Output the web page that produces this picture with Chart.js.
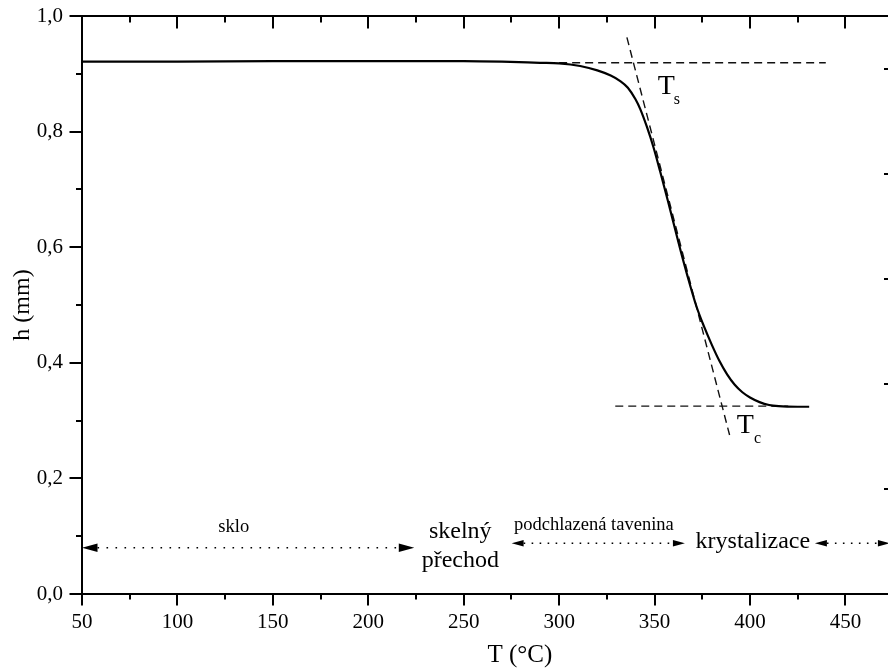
<!DOCTYPE html>
<html><head><meta charset="utf-8">
<script src="https://cdn.jsdelivr.net/npm/chart.js@4/dist/chart.umd.min.js"></script>
<style>html,body{margin:0;padding:0;background:#fff;overflow:hidden}</style>
</head><body>
<canvas id="c" width="888" height="668"></canvas>
<script>
// ---- data ----
const temperatures = [50,100,150,200,250,270,290,300,311,320,327,332,336,340,342.5,346,349.5,353,357,363,367,372,376,380,384,388,392,396,400,405,410,415,425,431];
const heights      = [0.921,0.921,0.922,0.922,0.922,0.921,0.919,0.918,0.9135,0.906,0.897,0.8875,0.876,0.856,0.839,0.808,0.772,0.730,0.680,0.602,0.553,0.497,0.462,0.431,0.403,0.380,0.362,0.349,0.340,0.332,0.327,0.325,0.324,0.324];

const upperTangentT = [300, 439.7];
const upperTangentH = [0.919, 0.919];
const steepTangentT = [335.5, 389.3];
const steepTangentH = [0.963, 0.275];
const lowerTangentT = [329.4, 420];
const lowerTangentH = [0.325, 0.325];

const xTickValues = [50,100,150,200,250,300,350,400,450];
const xTickLabels = ['50','100','150','200','250','300','350','400','450'];
const yTickValues = [0,0.2,0.4,0.6,0.8,1.0];
const yTickLabels = ['0,0','0,2','0,4','0,6','0,8','1,0'];

const xTitle = 'T (°C)';
const yTitle = 'h (mm)';

// region arrows (data units)
const arrowStartT = [50, 275.1, 434.0];
const arrowEndT   = [224.1, 365.9, 473.3];
const arrowH      = [0.0801, 0.0877, 0.0877];

// region labels
const regionLabels = ['sklo', 'skelný', 'přechod', 'podchlazená tavenina', 'krystalizace'];
const regionLabelT = [129.5, 248.2, 248.2, 318.2, 401.5];
const regionLabelH = [0.1067, 0.0969, 0.0472, 0.1107, 0.0791];

// tangent point labels
const pointLabels = ['T', 's', 'T', 'c'];
const pointLabelT = [351.6, 360.1, 393.0, 402.1];
const pointLabelH = [0.865, 0.848, 0.278, 0.2618];

// ---- styles ----
const FONT = '"Liberation Serif", "Times New Roman", serif';
const regionSizes = [18.5, 24, 24, 18.5, 24];
const pointSizes = [28, 16, 28, 16];
const arrowHead = [[15.5, 4.3, 9], [12, 3.2, 8], [12, 3.2, 8]];

const toXY = (xs, ys) => xs.map((v, i) => ({x: v, y: ys[i]}));

const decor = {
  id: 'decor',
  afterDraw(chart) {
    const {ctx, chartArea: a, scales: {x, y, y2}} = chart;
    ctx.save();
    ctx.strokeStyle = '#000';
    ctx.fillStyle = '#000';
    ctx.lineWidth = 2;
    // frame
    ctx.beginPath();
    ctx.moveTo(a.left, a.bottom + 1); ctx.lineTo(a.left, a.top);
    ctx.lineTo(a.right, a.top);
    ctx.moveTo(a.left - 1, a.bottom); ctx.lineTo(a.right, a.bottom);
    ctx.stroke();
    // x ticks (bottom outward, top inward)
    ctx.beginPath();
    for (let v = 50; v <= x.max; v += 25) {
      const px = Math.round(x.getPixelForValue(v));
      const major = v % 50 === 0;
      ctx.moveTo(px, a.bottom); ctx.lineTo(px, a.bottom + (major ? 11.5 : 5.5));
      ctx.moveTo(px, a.top); ctx.lineTo(px, a.top + (major ? 12.5 : 6.5));
    }
    // y ticks (left outward)
    for (let k = 0; k <= 10; k++) {
      const py = Math.round(y.getPixelForValue(k / 10));
      ctx.moveTo(a.left, py); ctx.lineTo(a.left - (k % 2 === 0 ? 12.5 : 6), py);
    }
    ctx.stroke();
    // right side ticks
    ctx.lineWidth = 1.8;
    ctx.beginPath();
    for (let k = 1; k <= 5; k++) {
      const py = Math.round(y2.getPixelForValue(k));
      ctx.moveTo(a.right, py); ctx.lineTo(a.right - 4, py);
    }
    ctx.stroke();

    // arrows
    for (let i = 0; i < arrowStartT.length; i++) {
      const x1 = x.getPixelForValue(arrowStartT[i]);
      const x2 = x.getPixelForValue(arrowEndT[i]);
      const py = y.getPixelForValue(arrowH[i]);
      const [hl, hw, gap] = arrowHead[i];
      ctx.save();
      ctx.lineWidth = 1.6;
      ctx.setLineDash([1.6, gap - 1.6]);
      ctx.beginPath();
      ctx.moveTo(x1 + hl, py); ctx.lineTo(x2 - hl, py);
      ctx.stroke();
      ctx.restore();
      ctx.beginPath();
      ctx.moveTo(x1, py); ctx.lineTo(x1 + hl, py - hw); ctx.lineTo(x1 + hl, py + hw); ctx.closePath();
      ctx.moveTo(x2, py); ctx.lineTo(x2 - hl, py - hw); ctx.lineTo(x2 - hl, py + hw); ctx.closePath();
      ctx.fill();
    }

    // region labels
    ctx.textAlign = 'center';
    ctx.textBaseline = 'alphabetic';
    regionLabels.forEach((t, i) => {
      ctx.font = regionSizes[i] + 'px ' + FONT;
      ctx.fillText(t, x.getPixelForValue(regionLabelT[i]), y.getPixelForValue(regionLabelH[i]));
    });
    // point labels
    ctx.textAlign = 'left';
    pointLabels.forEach((t, i) => {
      ctx.font = pointSizes[i] + 'px ' + FONT;
      ctx.fillText(t, x.getPixelForValue(pointLabelT[i]), y.getPixelForValue(pointLabelH[i]));
    });
    // x axis title
    ctx.textAlign = 'center';
    ctx.font = '25px ' + FONT;
    ctx.fillText(xTitle, x.getPixelForValue(279.4), a.bottom + 67.5);
    ctx.restore();
  }
};

new Chart(document.getElementById('c'), {
  type: 'line',
  data: {
    datasets: [
      {data: toXY(temperatures, heights), borderColor: '#000', borderWidth: 2.2, pointRadius: 0, cubicInterpolationMode: 'monotone', fill: false},
      {data: toXY(upperTangentT, upperTangentH), borderColor: '#111', borderWidth: 1.4, borderDash: [8, 5], pointRadius: 0, tension: 0},
      {data: toXY(steepTangentT, steepTangentH), borderColor: '#111', borderWidth: 1.4, borderDash: [8, 5], pointRadius: 0, tension: 0},
      {data: toXY(lowerTangentT, lowerTangentH), borderColor: '#111', borderWidth: 1.4, borderDash: [8, 5], pointRadius: 0, tension: 0}
    ]
  },
  options: {
    responsive: false,
    animation: false,
    devicePixelRatio: 1,
    events: [],
    layout: {padding: {top: 16, right: 0, left: 0, bottom: 0}},
    plugins: {legend: {display: false}, tooltip: {enabled: false}},
    scales: {
      x: {
        type: 'linear', min: 50, max: 472.3,
        afterBuildTicks: s => { s.ticks = xTickValues.map(v => ({value: v})); },
        afterFit: s => { s.height = 74; s.paddingLeft = 0; s.paddingRight = 0; },
        grid: {display: false, drawTicks: false},
        border: {display: false},
        ticks: {padding: 16, color: '#000', font: {family: FONT, size: 21}, maxRotation: 0,
                callback: (v, i) => xTickLabels[i]}
      },
      y: {
        type: 'linear', min: 0, max: 1,
        afterBuildTicks: s => { s.ticks = yTickValues.map(v => ({value: v})); },
        afterFit: s => { s.width = 82; s.paddingTop = 0; s.paddingBottom = 0; },
        grid: {display: false, drawTicks: false},
        border: {display: false},
        title: {display: true, text: yTitle, color: '#000', font: {family: FONT, size: 24}, padding: {top: 8, bottom: 0}},
        ticks: {padding: 19, color: '#000', font: {family: FONT, size: 21},
                callback: (v, i) => yTickLabels[i]}
      },
      y2: {type: 'linear', min: 0, max: 5.5, display: false}
    }
  },
  plugins: [decor]
});
</script>
</body></html>
